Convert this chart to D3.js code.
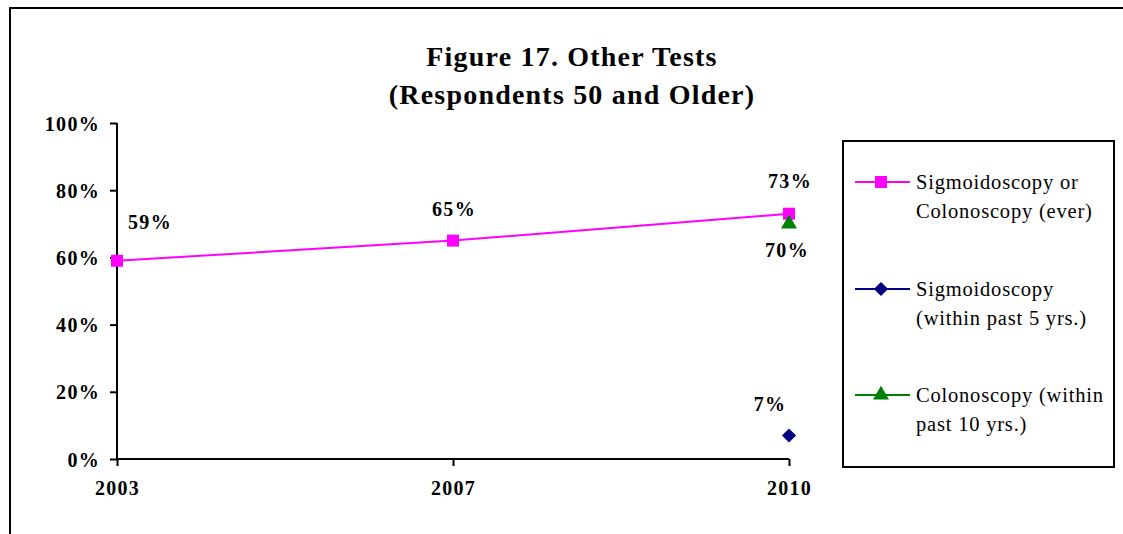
<!DOCTYPE html>
<html><head><meta charset="utf-8">
<script src="https://cdn.jsdelivr.net/npm/d3@7"></script>
<style>
html,body{margin:0;padding:0;background:#fff;}
svg text{font-family:"Liberation Serif","Times New Roman",serif;}
</style></head>
<body>
<svg id="chart" width="1123" height="534"></svg>
<script>
const years = ["2003", "2007", "2010"];
const everValues = [0.59, 0.65, 0.73];
const sigmoidValues = [null, null, 0.07];
const colonValues = [null, null, 0.70];
const yTicks = [0, 0.2, 0.4, 0.6, 0.8, 1.0];
const titleLines = ["Figure 17. Other Tests", "(Respondents 50 and Older)"];
const legendLabels = [
  ["Sigmoidoscopy or", "Colonoscopy (ever)"],
  ["Sigmoidoscopy", "(within past 5 yrs.)"],
  ["Colonoscopy (within", "past 10 yrs.)"]
];

const svg = d3.select("#chart");

// outer frame
svg.append("rect").attr("x", 10).attr("y", 8).attr("width", 1300).attr("height", 700)
  .attr("fill", "none").attr("stroke", "#000").attr("stroke-width", 2);

const x = d3.scalePoint().domain(years).range([117, 789]);
const y = d3.scaleLinear().domain([0, 1]).range([459, 123]);

// title
svg.append("g").selectAll("text").data(titleLines).join("text")
  .attr("x", 572).attr("y", (d, i) => 66 + i * 38)
  .attr("text-anchor", "middle").attr("font-weight", "bold")
  .attr("font-size", 28).attr("letter-spacing", 1.2)
  .attr("fill", "#000").text(d => d);

// axes
const yAxis = svg.append("g").attr("transform", "translate(117,0)")
  .call(d3.axisLeft(y).tickValues(yTicks).tickFormat(d3.format(".0%")).tickSize(7).tickPadding(10));
const xAxis = svg.append("g").attr("transform", "translate(0,459)")
  .call(d3.axisBottom(x).tickSize(7).tickPadding(14));
[yAxis, xAxis].forEach(a => {
  a.select(".domain").attr("stroke", "#000").attr("stroke-width", 2);
  a.selectAll(".tick line").attr("stroke", "#000").attr("stroke-width", 2);
  a.selectAll(".tick text").attr("font-family", "Liberation Serif, serif")
    .attr("font-weight", "bold").attr("font-size", 20).attr("letter-spacing", 1.3).attr("fill", "#000");
});
yAxis.selectAll(".tick text").attr("dy", "0.35em");
xAxis.selectAll(".tick text").attr("dy", "0.75em");
xAxis.select(".domain").attr("d", "M117,0H789");
yAxis.select(".domain").attr("d", "M0,459V123");

// line for "ever"
const everData = years.map((yr, i) => ({yr, v: everValues[i]}));
svg.append("path").datum(everData)
  .attr("fill", "none").attr("stroke", "#FF00FF").attr("stroke-width", 2)
  .attr("d", d3.line().x(d => x(d.yr)).y(d => y(d.v)));

const sq = d3.symbol().type(d3.symbolSquare).size(144);
const dia = d3.symbol().type(d3.symbolSquare).size(100);
const tri = d3.symbol().type(d3.symbolTriangle).size(110);

svg.append("g").selectAll("path").data(everData).join("path")
  .attr("transform", d => `translate(${x(d.yr)},${y(d.v)})`)
  .attr("d", sq).attr("fill", "#FF00FF");

const sigData = years.map((yr, i) => ({yr, v: sigmoidValues[i]})).filter(d => d.v !== null);
const colData = years.map((yr, i) => ({yr, v: colonValues[i]})).filter(d => d.v !== null);

svg.append("g").selectAll("path").data(colData).join("path")
  .attr("transform", d => `translate(${x(d.yr)},${y(d.v)})`)
  .attr("d", tri).attr("fill", "#008000");
svg.append("g").selectAll("path").data(sigData).join("path")
  .attr("transform", d => `translate(${x(d.yr)},${y(d.v)}) rotate(45)`)
  .attr("d", dia).attr("fill", "#000080");

// data labels
const fmt = d3.format(".0%");
const labelStyle = sel => sel.attr("text-anchor", "middle").attr("font-weight", "bold")
  .attr("font-size", 20).attr("letter-spacing", 1.3).attr("fill", "#000");
const everOffsets = [[33, -32], [1, -25], [1, -26]];
svg.append("g").selectAll("text").data(everData).join("text")
  .attr("x", (d, i) => x(d.yr) + everOffsets[i][0])
  .attr("y", (d, i) => y(d.v) + everOffsets[i][1])
  .call(labelStyle).text(d => fmt(d.v));
svg.append("g").selectAll("text").data(colData).join("text")
  .attr("x", d => x(d.yr) - 2).attr("y", d => y(d.v) + 33)
  .call(labelStyle).text(d => fmt(d.v));
svg.append("g").selectAll("text").data(sigData).join("text")
  .attr("x", d => x(d.yr) - 19).attr("y", d => y(d.v) - 24)
  .call(labelStyle).text(d => fmt(d.v));

// legend
svg.append("rect").attr("x", 843).attr("y", 141).attr("width", 271).attr("height", 326)
  .attr("fill", "#fff").attr("stroke", "#000").attr("stroke-width", 2);
const legColors = ["#FF00FF", "#000080", "#008000"];
const legSyms = [sq, dia, tri];
const legRot = [0, 45, 0];
const legY = [182, 289, 395];
legendLabels.forEach((lines, i) => {
  const g = svg.append("g").attr("transform", `translate(0,${legY[i]})`);
  g.append("line").attr("x1", 855).attr("x2", 910).attr("y1", 0).attr("y2", 0)
    .attr("stroke", legColors[i]).attr("stroke-width", 2);
  g.append("path").attr("transform", `translate(881,0) rotate(${legRot[i]})`).attr("d", legSyms[i]).attr("fill", legColors[i]);
  g.selectAll("text").data(lines).join("text")
    .attr("x", 916).attr("y", (d, j) => 7 + j * 29)
    .attr("font-size", 20.5).attr("letter-spacing", 0.8).attr("fill", "#000").text(d => d);
});
</script>
</body></html>
